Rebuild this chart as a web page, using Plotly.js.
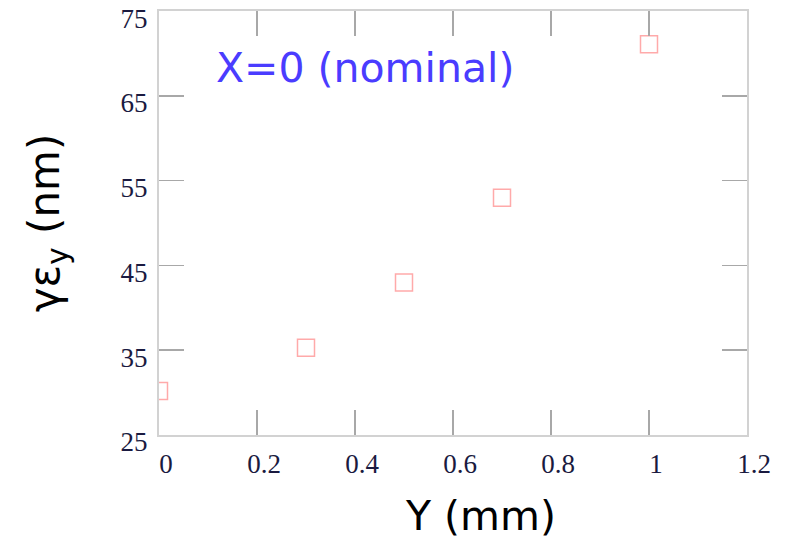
<!DOCTYPE html>
<html>
<head>
<meta charset="utf-8">
<script src="https://cdn.plot.ly/plotly-3.0.1.min.js"></script>
<style>html,body{margin:0;padding:0;background:#fff;}#chart{width:785px;height:545px;}</style>
</head>
<body>
<div id="chart"></div>
<script>
const offsetY = [0, 0.3, 0.5, 0.7, 1.0];
const emittanceY = [30.2, 35.3, 43.0, 53.0, 71.1];
const xTickVals = [0, 0.2, 0.4, 0.6, 0.8, 1, 1.2];
const xTickText = ['0', '0.2', '0.4', '0.6', '0.8', '1', '1.2'];
const yTickVals = [25, 35, 45, 55, 65, 75];
const yTickText = ['25', '35', '45', '55', '65', '75'];
const noteText = 'X=0 (nominal)';
const xTitle = 'Y (mm)';
const yTitle = 'γε<sub>y</sub> (nm)';

const trace = {
  x: offsetY, y: emittanceY, type: 'scatter', mode: 'markers',
  marker: {symbol: 'square-open', size: 17, color: '#ffaaaa', line: {width: 1.5, color: '#ffaaaa'}},
  showlegend: false, hoverinfo: 'none', cliponaxis: true
};

const axisCommon = {
  showgrid: false, zeroline: false, showline: true, linecolor: '#d2d2d2', linewidth: 2,
  mirror: 'ticks', ticks: 'inside', ticklen: 25, tickwidth: 1.5, tickcolor: '#a8a8a8',
  ticklabeloverflow: 'allow',
  tickfont: {family: 'Liberation Serif, Times New Roman, serif', size: 27, color: '#1a1a40'}
};

const layout = {
  width: 785, height: 545,
  margin: {l: 159, r: 38, t: 11, b: 110},
  paper_bgcolor: '#fff', plot_bgcolor: '#fff',
  xaxis: Object.assign({}, axisCommon, {
    range: [0, 1.2], tickmode: 'array', tickvals: xTickVals, ticktext: xTickText,
    ticklabelstandoff: 4, ticklabelshift: 7
  }),
  yaxis: Object.assign({}, axisCommon, {
    range: [25, 75.02], tickmode: 'array', tickvals: yTickVals, ticktext: yTickText,
    ticklabelstandoff: 4, ticklabelshift: 7,
    title: {text: yTitle, font: {family: 'DejaVu Sans, sans-serif', size: 42, color: '#000'}, standoff: 48}
  }),
  annotations: [{
    x: 0.112, y: 68.25, xref: 'x', yref: 'y', xanchor: 'left', yanchor: 'middle',
    text: noteText, showarrow: false,
    font: {family: 'DejaVu Sans, sans-serif', size: 41, color: '#4a3cff'}
  }, {
    x: 0.5476, y: -0.19, xref: 'paper', yref: 'paper', xanchor: 'center', yanchor: 'middle',
    text: xTitle, showarrow: false,
    font: {family: 'DejaVu Sans, sans-serif', size: 41, color: '#000'}
  }]
};

Plotly.newPlot('chart', [trace], layout, {staticPlot: true, displayModeBar: false});
</script>
</body>
</html>
